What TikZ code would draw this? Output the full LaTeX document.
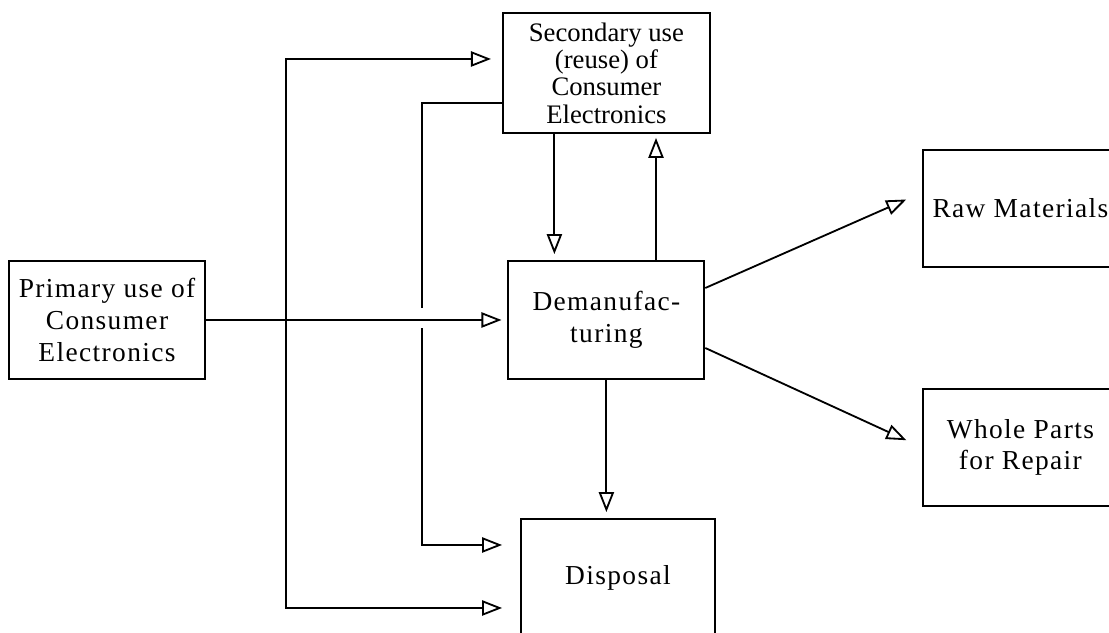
\documentclass[tikz,border=0pt]{standalone}
\usepackage{fontspec}
\setmainfont{Liberation Serif}[LetterSpace=5]
\newfontfamily\tightserif{Liberation Serif}
\usepackage{tikz}
\usetikzlibrary{arrows.meta,positioning}

\begin{document}
\begin{tikzpicture}[line width=1.3pt,
    box/.style={draw,rectangle,align=center,minimum width=4.9cm,minimum height=2.95cm,
      inner sep=2pt,font=\fontsize{19.5}{22.5}\selectfont},
    arr/.style={-{Triangle[open,length=0.5cm,width=0.38cm]},shorten >=0.15cm}]
        \clip (0,0) rectangle (27.725,15.825);
        % boxes
        \node[box] (prim) at (2.675,7.825) {Primary use of\\Consumer\\Electronics};
        \node[box,minimum width=5.175cm,minimum height=3cm,
          font=\tightserif\fontsize{19}{19.5}\selectfont] (sec) at (15.16,14)
          {Secondary use\\(reuse) of\\Consumer\\Electronics};
        \node[box] (dem) at (15.16,7.825) {Demanufac-\\turing};
        \node[box,minimum width=4.85cm] (disp) at (15.45,1.375) {Disposal};
        \node[box,minimum width=4.875cm,minimum height=2.925cm] (raw) at (25.51,10.61) {Raw Materials};
        \node[box,minimum width=4.875cm,minimum height=2.925cm] (whole) at (25.51,4.64) {Whole Parts\\for Repair};
        % flows round the middle
        \coordinate (split) at ([xshift=2cm]prim.east);
        \draw[arr,shorten >=0.275cm] (split) |- ([yshift=0.35cm]sec.west);
        \draw[arr,shorten >=0.45cm] (split) |- ([yshift=-0.75cm]disp.west);
        \draw[arr,shorten >=0.45cm] ([yshift=-0.75cm]sec.west) -- ++(-2,0) |- ([yshift=0.825cm]disp.west);
        % line hop
        \fill[white] (10.45,7.625) rectangle (10.7,8.125);
        \draw[arr] (prim) -- (dem);
        % demanufacturing
        \draw[arr] ([xshift=-1.3cm]sec.south) -- ([xshift=-1.3cm]dem.north);
        \draw[arr,shorten >=0.1cm] ([xshift=1.24cm]dem.north) -- ([xshift=1.24cm]sec.south);
        \draw[arr] (dem.south) -- (dem.south |- disp.north);
        \draw[arr,shorten >=0.43cm] ([yshift=0.8cm]dem.east) -- ([yshift=0.4cm]raw.west);
        \draw[arr,shorten >=0.43cm] ([yshift=-0.7cm]dem.east) -- (whole.west);
      \end{tikzpicture}
\end{document}
